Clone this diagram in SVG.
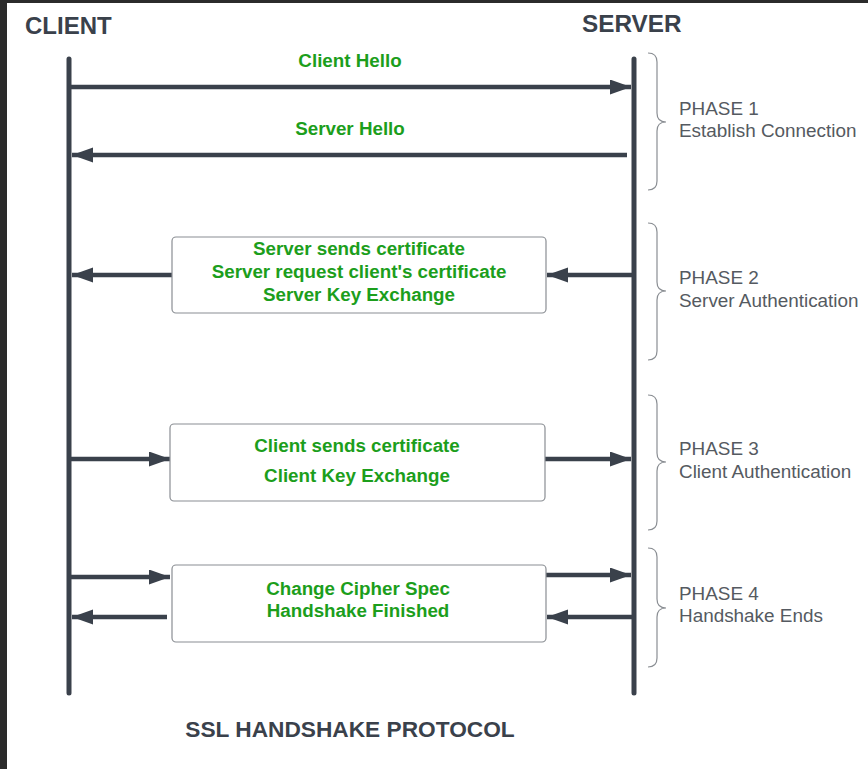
<svg xmlns="http://www.w3.org/2000/svg" width="868" height="769" viewBox="0 0 868 769">
<style>
.life{stroke:#3a414b;stroke-width:5;stroke-linecap:round;fill:none}
.arr{stroke:#3a414b;stroke-width:4.5;fill:none}
.box{fill:#fff;stroke:#8a8e93;stroke-width:1.2}
.msg{font-family:"Liberation Sans",Arial,sans-serif;font-weight:bold;font-size:18.8px;fill:#1c9e1c;text-anchor:middle}
.head{font-family:"Liberation Sans",Arial,sans-serif;font-weight:bold;font-size:24px;fill:#3a414b}
.ph{font-family:"Liberation Sans",Arial,sans-serif;font-size:18.9px;fill:#555a61}
.brace{fill:none;stroke:#8a8e93;stroke-width:1.2}
</style>
<defs>
<marker id="ah" markerUnits="userSpaceOnUse" markerWidth="22" markerHeight="16" refX="21" refY="7.5" orient="auto">
<path d="M0,0 L21,7.5 L0,15 z" fill="#3a414b"/>
</marker>
</defs>
<rect x="0" y="0" width="868" height="769" fill="#fff"/>
<rect x="0" y="0" width="868" height="3" fill="#2b2b2b"/>
<rect x="0" y="0" width="7" height="769" fill="#2b2b2b"/>

<g id="client">
<text class="head" x="25" y="34">CLIENT</text>
<line class="life" x1="69" y1="59" x2="69" y2="693"/>
</g>
<g id="server">
<text class="head" x="582" y="32" style="font-size:24.3px">SERVER</text>
<line class="life" x1="634" y1="59" x2="634" y2="693"/>
</g>

<g id="connectors">
<line class="arr" x1="71" y1="87" x2="631" y2="87" marker-end="url(#ah)"/>
<line class="arr" x1="627" y1="155" x2="72" y2="155" marker-end="url(#ah)"/>
<line class="arr" x1="172" y1="275" x2="72" y2="275" marker-end="url(#ah)"/>
<line class="arr" x1="632" y1="275" x2="547" y2="275" marker-end="url(#ah)"/>
<line class="arr" x1="71" y1="459" x2="170" y2="459" marker-end="url(#ah)"/>
<line class="arr" x1="545" y1="459" x2="631" y2="459" marker-end="url(#ah)"/>
<line class="arr" x1="71" y1="577" x2="170" y2="577" marker-end="url(#ah)"/>
<line class="arr" x1="167" y1="617" x2="72" y2="617" marker-end="url(#ah)"/>
<line class="arr" x1="546" y1="575" x2="631" y2="575" marker-end="url(#ah)"/>
<line class="arr" x1="632" y1="617" x2="547" y2="617" marker-end="url(#ah)"/>
</g>

<g id="client-hello">
<text class="msg" x="350" y="67">Client Hello</text>
</g>
<g id="server-hello">
<text class="msg" x="350" y="135">Server Hello</text>
</g>

<g id="box-phase2">
<rect class="box" x="172" y="237" width="374" height="76" rx="4"/>
<text class="msg" x="359" y="255">Server sends certificate</text>
<text class="msg" x="359" y="278">Server request client's certificate</text>
<text class="msg" x="359" y="301">Server Key Exchange</text>
</g>
<g id="box-phase3">
<rect class="box" x="170" y="424" width="375" height="77" rx="4"/>
<text class="msg" x="357" y="452">Client sends certificate</text>
<text class="msg" x="357" y="482">Client Key Exchange</text>
</g>
<g id="box-phase4">
<rect class="box" x="172" y="565" width="374" height="77" rx="4"/>
<text class="msg" x="358" y="595">Change Cipher Spec</text>
<text class="msg" x="358" y="617">Handshake Finished</text>
</g>

<g id="phase1">
<path class="brace" d="M648,53 Q657,53 657,62 L657,113 Q657,122 666,122 Q657,122 657,131 L657,181 Q657,190 648,190"/>
<text class="ph" x="679" y="115">PHASE 1</text>
<text class="ph" x="679" y="137">Establish Connection</text>
</g>
<g id="phase2">
<path class="brace" d="M648,223 Q657,223 657,232 L657,282 Q657,291 666,291 Q657,291 657,300 L657,351 Q657,360 648,360"/>
<text class="ph" x="679" y="284">PHASE 2</text>
<text class="ph" x="679" y="307">Server Authentication</text>
</g>
<g id="phase3">
<path class="brace" d="M648,395 Q657,395 657,404 L657,453 Q657,462 666,462 Q657,462 657,471 L657,521 Q657,530 648,530"/>
<text class="ph" x="679" y="455">PHASE 3</text>
<text class="ph" x="679" y="478">Client Authentication</text>
</g>
<g id="phase4">
<path class="brace" d="M648,548 Q657,548 657,557 L657,599 Q657,608 666,608 Q657,608 657,617 L657,658 Q657,667 648,667"/>
<text class="ph" x="679" y="600">PHASE 4</text>
<text class="ph" x="679" y="622">Handshake Ends</text>
</g>

<g id="title">
<text class="head" x="350" y="737" text-anchor="middle" style="font-size:22.7px">SSL HANDSHAKE PROTOCOL</text>
</g>
</svg>
